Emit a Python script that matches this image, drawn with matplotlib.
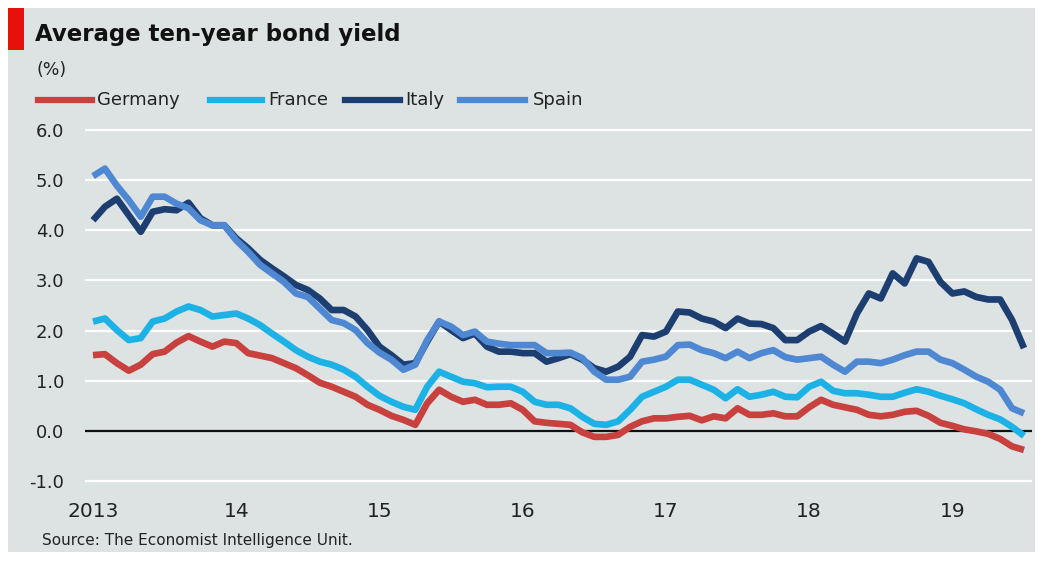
import numpy as np
import matplotlib
matplotlib.use('Agg')
import matplotlib.pyplot as plt
from matplotlib.lines import Line2D
from matplotlib.patches import Rectangle

# monthly averages, Jan 2013 - Jul 2019
germany = [1.51, 1.53, 1.35, 1.20, 1.32, 1.53, 1.58, 1.76, 1.89, 1.78, 1.68, 1.78,
           1.75, 1.55, 1.50, 1.45, 1.35, 1.25, 1.11, 0.96, 0.88, 0.78, 0.68, 0.52,
           0.42, 0.30, 0.22, 0.12, 0.55, 0.82, 0.68, 0.58, 0.62, 0.52, 0.52, 0.55,
           0.42, 0.19, 0.16, 0.14, 0.12, -0.03, -0.12, -0.12, -0.08, 0.08, 0.19, 0.25,
           0.25, 0.28, 0.30, 0.21, 0.29, 0.25, 0.45, 0.32, 0.32, 0.35, 0.29, 0.29,
           0.47, 0.62, 0.52, 0.47, 0.42, 0.32, 0.29, 0.32, 0.38, 0.40, 0.30, 0.16,
           0.10, 0.03, -0.01, -0.06, -0.16, -0.31, -0.38]
france = [2.18, 2.24, 2.01, 1.81, 1.85, 2.18, 2.24, 2.38, 2.48, 2.41, 2.28, 2.31,
          2.34, 2.24, 2.11, 1.94, 1.78, 1.61, 1.48, 1.38, 1.32, 1.22, 1.08, 0.88,
          0.70, 0.58, 0.48, 0.42, 0.88, 1.18, 1.08, 0.98, 0.95, 0.87, 0.88, 0.88,
          0.78, 0.58, 0.52, 0.52, 0.45, 0.28, 0.14, 0.12, 0.19, 0.42, 0.68, 0.78,
          0.88, 1.02, 1.02, 0.92, 0.82, 0.65, 0.83, 0.68, 0.72, 0.78, 0.68, 0.67,
          0.88, 0.98, 0.80, 0.75, 0.75, 0.72, 0.68, 0.68, 0.76, 0.83, 0.78, 0.70,
          0.63, 0.55, 0.43, 0.32, 0.23, 0.08, -0.10]
italy = [4.20, 4.47, 4.63, 4.30, 3.97, 4.37, 4.42, 4.40, 4.55, 4.24, 4.10, 4.10,
         3.84, 3.64, 3.41, 3.24, 3.08, 2.91, 2.81, 2.64, 2.41, 2.41, 2.28, 2.01,
         1.68, 1.51, 1.32, 1.35, 1.78, 2.18, 2.01, 1.85, 1.94, 1.68, 1.58, 1.58,
         1.55, 1.55, 1.38, 1.45, 1.53, 1.42, 1.25, 1.18, 1.28, 1.48, 1.91, 1.88,
         1.98, 2.38, 2.36, 2.24, 2.18, 2.05, 2.24, 2.14, 2.13, 2.05, 1.81, 1.81,
         1.98, 2.09, 1.94, 1.78, 2.34, 2.74, 2.64, 3.14, 2.94, 3.44, 3.37, 2.97,
         2.74, 2.78, 2.67, 2.62, 2.62, 2.21, 1.65]
spain = [5.08, 5.23, 4.89, 4.60, 4.27, 4.67, 4.67, 4.53, 4.44, 4.20, 4.10, 4.10,
         3.80, 3.57, 3.31, 3.14, 2.97, 2.74, 2.67, 2.44, 2.21, 2.15, 2.01, 1.75,
         1.56, 1.42, 1.22, 1.32, 1.81, 2.18, 2.08, 1.91, 1.98, 1.78, 1.74, 1.71,
         1.71, 1.71, 1.55, 1.55, 1.56, 1.45, 1.18, 1.02, 1.02, 1.08, 1.38, 1.42,
         1.48, 1.71, 1.72, 1.61, 1.55, 1.45, 1.58, 1.45, 1.55, 1.61, 1.47, 1.42,
         1.45, 1.48, 1.32, 1.18, 1.38, 1.38, 1.35, 1.42, 1.51, 1.58, 1.58, 1.42,
         1.35, 1.22, 1.08, 0.98, 0.82, 0.45, 0.35]

countries = ['Germany', 'France', 'Italy', 'Spain']
series = [germany, france, italy, spain]
colors = ['#c9413f', '#1db2e6', '#1c3e70', '#4f88d2']

year_labels = ['2013', '14', '15', '16', '17', '18', '19']
y_ticks = [-1.0, 0.0, 1.0, 2.0, 3.0, 4.0, 5.0, 6.0]

bg = '#dde3e3'
W, H = 1042, 561

fig = plt.figure(figsize=(W / 100, H / 100), dpi=100)
fig.patch.set_facecolor('white')
fig.add_artist(Rectangle((8 / W, 1 - 552 / H), (1035 - 8) / W, (552 - 8) / H,
                         transform=fig.transFigure, facecolor=bg, edgecolor='none', zorder=0))
fig.add_artist(Rectangle((8 / W, 1 - 50 / H), 16 / W, 42 / H,
                         transform=fig.transFigure, facecolor='#e8100b', edgecolor='none'))

# plot area: gridlines span x 85..1032, y 130 (6.0) .. 481 (-1.0)
ax = fig.add_axes([85 / W, 1 - 483 / H, (1032 - 85) / W, (483 - 128) / H])
ax.set_facecolor('none')
n = len(germany)
x = np.arange(n)
dx = 8 / 11.94
ax.set_xlim(-dx, n - 1 + dx)
per_px = 7.0 / (481 - 130)
ax.set_ylim(-1.0 - 2 * per_px, 6.0 + 2 * per_px)

for v in y_ticks:
    if v == 0:
        ax.axhline(v, color='#111111', lw=1.6, zorder=2)
    else:
        ax.axhline(v, color='white', lw=1.6, zorder=1)

for vals, c in zip(series, colors):
    ax.plot(x, vals, color=c, lw=4.8, solid_joinstyle='round', solid_capstyle='butt', zorder=3)

for s in ax.spines.values():
    s.set_visible(False)
ax.set_yticks(y_ticks)
ax.set_yticklabels(['%.1f' % v for v in y_ticks])
ax.set_xticks(np.arange(len(year_labels)) * 12)
ax.set_xticklabels(year_labels)
ax.tick_params(axis='both', length=0, colors='#222222')
ax.tick_params(axis='y', pad=15, labelsize=13)
ax.tick_params(axis='x', pad=14, labelsize=14.5)

fig.text(35 / W, 1 - 35 / H, 'Average ten-year bond yield', fontsize=16.5, fontweight='bold',
         va='center', ha='left', color='#111111')
fig.text(36 / W, 1 - 70 / H, '(%)', fontsize=12.5, va='center', ha='left', color='#222222')

# legend row
leg = [(38, 92, 97), (210, 262, 268), (345, 400, 405), (460, 525, 533)]
for (x0, x1, xt), name, c in zip(leg, countries, colors):
    fig.add_artist(Line2D([x0 / W, x1 / W], [1 - 100 / H] * 2, transform=fig.transFigure,
                          color=c, lw=4.5))
    fig.text(xt / W, 1 - 100 / H, name, fontsize=13, va='center', ha='left', color='#222222')

fig.text(42 / W, 1 - 541 / H, 'Source: The Economist Intelligence Unit.', fontsize=11,
         va='center', ha='left', color='#222222')

fig.savefig('out.png', dpi=100, facecolor='white')
